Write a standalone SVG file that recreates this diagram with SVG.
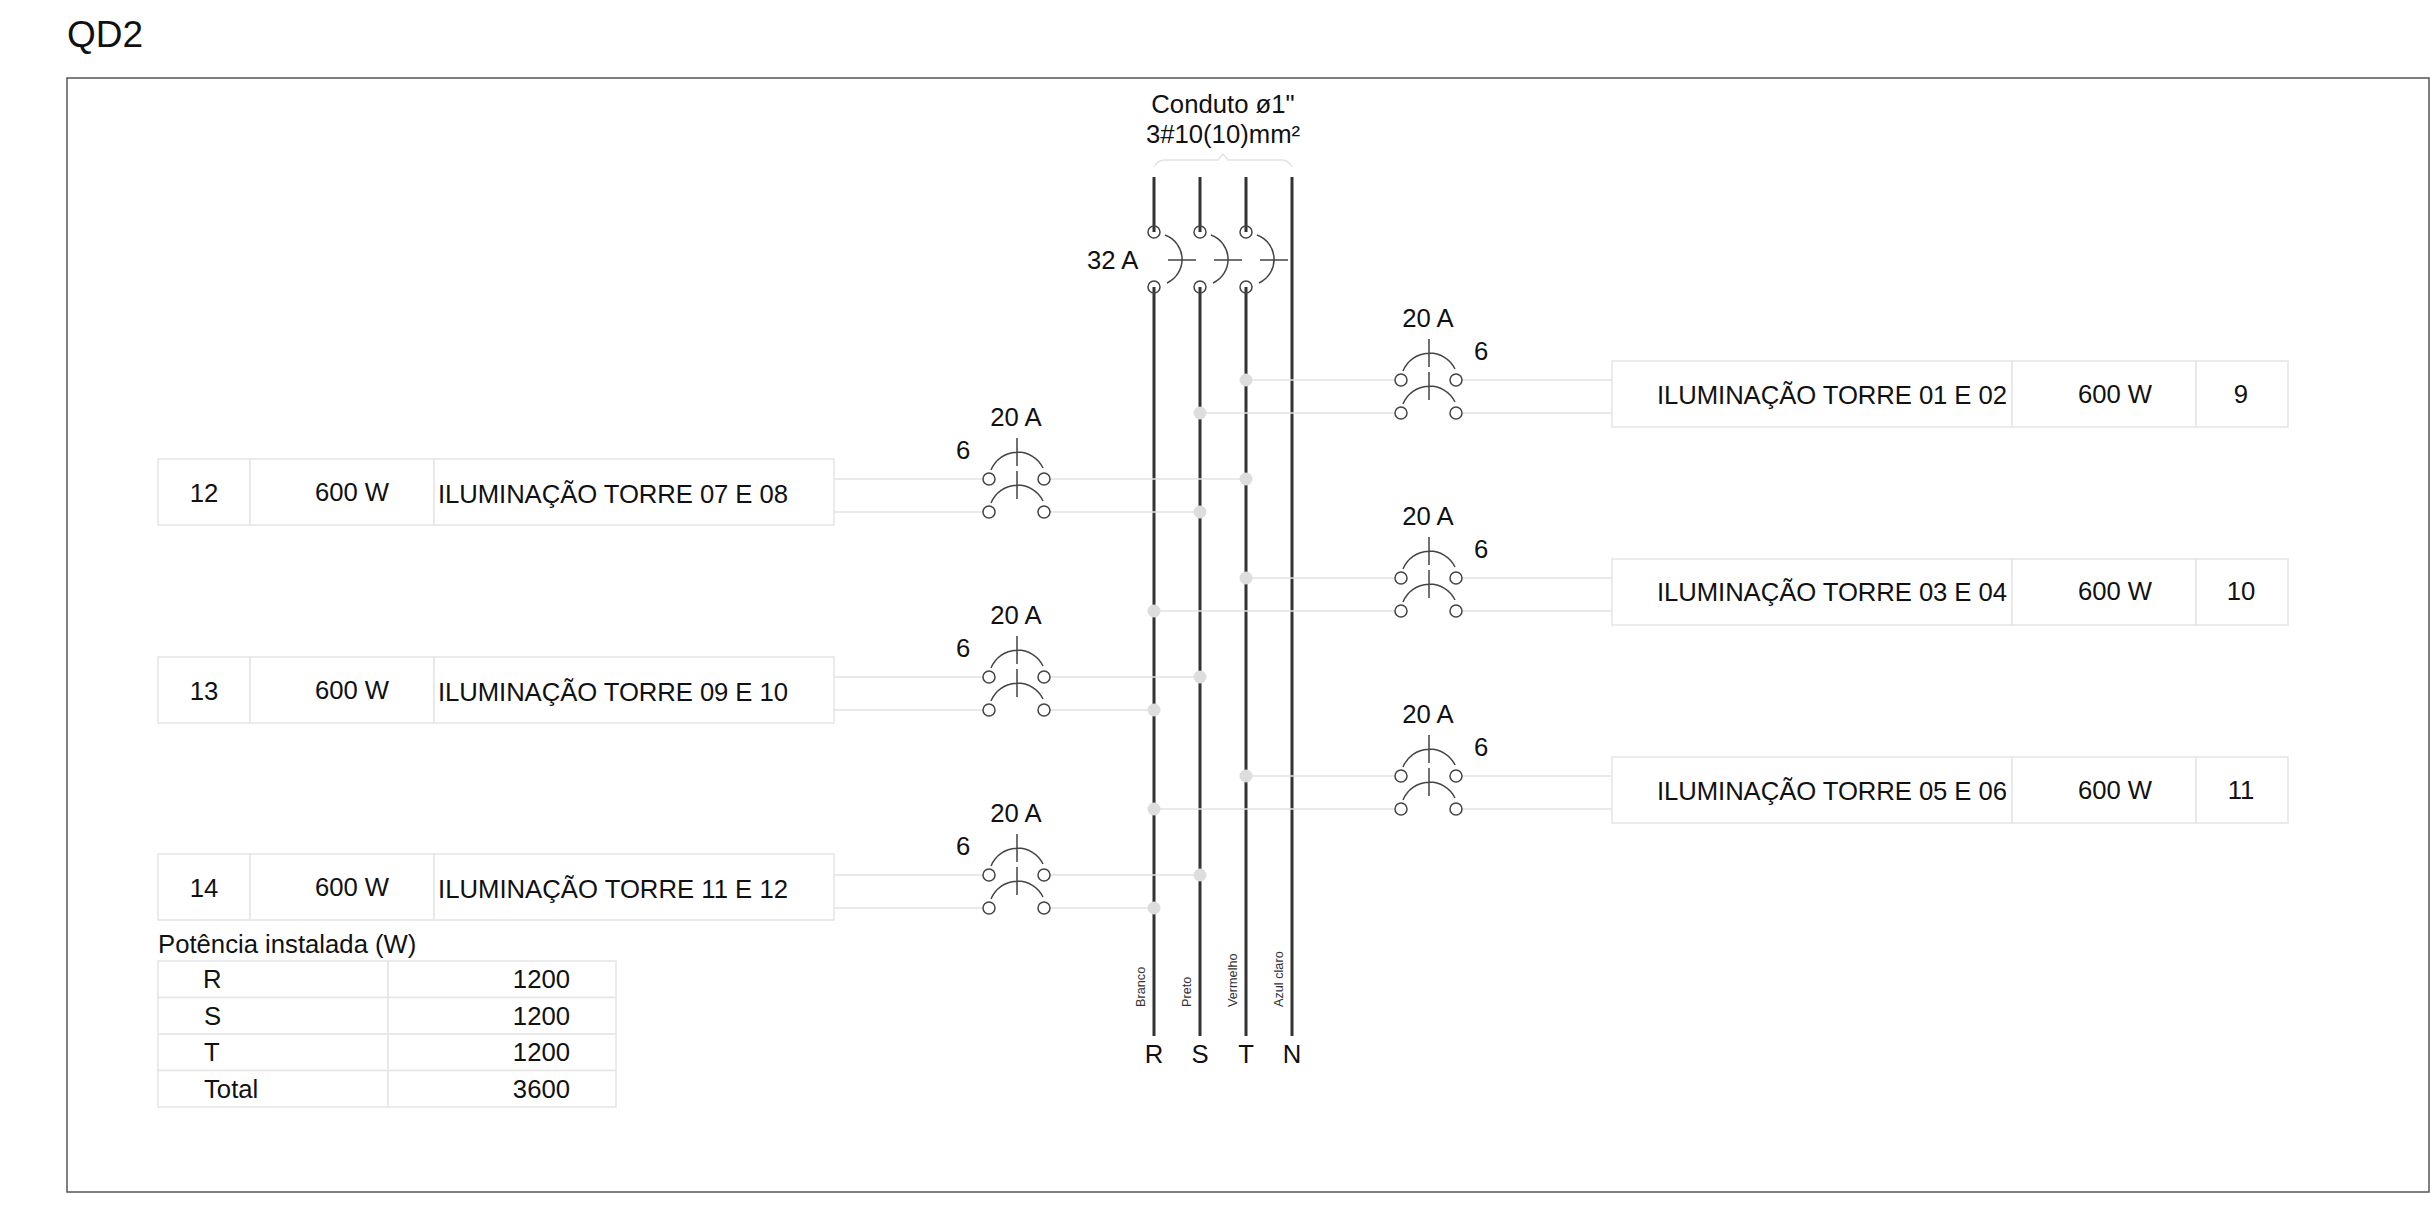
<svg xmlns="http://www.w3.org/2000/svg" width="2430" height="1209" viewBox="0 0 2430 1209">
<style>
text{font-family:"Liberation Sans",Arial,sans-serif;font-size:25.7px;fill:#111}
.m{text-anchor:middle}.e{text-anchor:end}
.cell{fill:#fff;stroke:#e6e6e6;stroke-width:1.6}
.bus{stroke:#333;stroke-width:3;fill:none}
.wire{stroke:#e2e2e2;stroke-width:1.6;fill:none}
.sym{stroke:#444;stroke-width:1.5;fill:none}
.term{stroke:#444;stroke-width:1.5;fill:none}
.dot{fill:#ddd}
.small{font-size:12.7px;fill:#333}
</style>
<defs>
<g id="bk"><path class="sym" d="M14 -9A28.5 28.5 0 0 1 66 -11M40 -41V-13M14 24A28.5 28.5 0 0 1 66 22M40 -8V20"/><circle class="term" cx="12" cy="0" r="6"/><circle class="term" cx="67" cy="0" r="6"/><circle class="term" cx="12" cy="33" r="6"/><circle class="term" cx="67" cy="33" r="6"/></g>
<g id="mb"><path class="sym" d="M11 -52A26 26 0 0 1 13 -4M14 -27H42"/><circle class="term" cx="0" cy="-55" r="6"/><circle class="term" cx="0" cy="0" r="6"/></g>
</defs>
<rect id="frame" x="67" y="78" width="2362" height="1114" fill="#fff" stroke="#555" stroke-width="1.5"/>
<text id="title" x="67" y="47" style="font-size:37px">QD2</text>
<g id="connectors">
<path class="bus" d="M1154 177V232M1154 287V1036M1200 177V232M1200 287V1036M1246 177V232M1246 287V1036M1292 177V1036"/>
<path class="wire" d="M1154 167Q1158 160 1164 160H1218L1223 154L1228 160H1282Q1288 160 1292 167" style="stroke-width:1.3"/>
<path class="wire" d="M1246 380H1395M1462 380H1612M1200 413H1395M1462 413H1612M1246 578H1395M1462 578H1612M1154 611H1395M1462 611H1612M1246 776H1395M1462 776H1612M1154 809H1395M1462 809H1612M834 479H983M1050 479H1246M834 512H983M1050 512H1200M834 677H983M1050 677H1200M834 710H983M1050 710H1154M834 875H983M1050 875H1200M834 908H983M1050 908H1154"/>
<g class="dot"><circle cx="1246" cy="380" r="6.5"/><circle cx="1200" cy="413" r="6.5"/><circle cx="1246" cy="578" r="6.5"/><circle cx="1154" cy="611" r="6.5"/><circle cx="1246" cy="776" r="6.5"/><circle cx="1154" cy="809" r="6.5"/><circle cx="1246" cy="479" r="6.5"/><circle cx="1200" cy="512" r="6.5"/><circle cx="1200" cy="677" r="6.5"/><circle cx="1154" cy="710" r="6.5"/><circle cx="1200" cy="875" r="6.5"/><circle cx="1154" cy="908" r="6.5"/></g>
</g>
<g id="conduit"><text class="m" x="1223" y="113">Conduto ø1"</text><text class="m" x="1223" y="143">3#10(10)mm²</text></g>
<g id="main-breaker"><use href="#mb" x="1154" y="287"/><use href="#mb" x="1200" y="287"/><use href="#mb" x="1246" y="287"/><text x="1087" y="269">32 A</text></g>
<g id="breaker-9"><use href="#bk" x="1389" y="380"/><text class="m" x="1428" y="327">20 A</text><text x="1474" y="360">6</text></g>
<g id="breaker-10"><use href="#bk" x="1389" y="578"/><text class="m" x="1428" y="525">20 A</text><text x="1474" y="558">6</text></g>
<g id="breaker-11"><use href="#bk" x="1389" y="776"/><text class="m" x="1428" y="723">20 A</text><text x="1474" y="756">6</text></g>
<g id="breaker-12"><use href="#bk" x="977" y="479"/><text class="m" x="1016" y="426">20 A</text><text x="956" y="459">6</text></g>
<g id="breaker-13"><use href="#bk" x="977" y="677"/><text class="m" x="1016" y="624">20 A</text><text x="956" y="657">6</text></g>
<g id="breaker-14"><use href="#bk" x="977" y="875"/><text class="m" x="1016" y="822">20 A</text><text x="956" y="855">6</text></g>
<g id="circuit-9"><rect class="cell" x="1612" y="361" width="400" height="66"/><rect class="cell" x="2012" y="361" width="184" height="66"/><rect class="cell" x="2196" y="361" width="92" height="66"/><text x="1657" y="404" textLength="350">ILUMINAÇÃO TORRE 01 E 02</text><text class="m" x="2115" y="403">600 W</text><text class="m" x="2241" y="403">9</text></g>
<g id="circuit-10"><rect class="cell" x="1612" y="559" width="400" height="66"/><rect class="cell" x="2012" y="559" width="184" height="66"/><rect class="cell" x="2196" y="559" width="92" height="66"/><text x="1657" y="601" textLength="350">ILUMINAÇÃO TORRE 03 E 04</text><text class="m" x="2115" y="600">600 W</text><text class="m" x="2241" y="600">10</text></g>
<g id="circuit-11"><rect class="cell" x="1612" y="757" width="400" height="66"/><rect class="cell" x="2012" y="757" width="184" height="66"/><rect class="cell" x="2196" y="757" width="92" height="66"/><text x="1657" y="800" textLength="350">ILUMINAÇÃO TORRE 05 E 06</text><text class="m" x="2115" y="799">600 W</text><text class="m" x="2241" y="799">11</text></g>
<g id="circuit-12"><rect class="cell" x="158" y="459" width="92" height="66"/><rect class="cell" x="250" y="459" width="184" height="66"/><rect class="cell" x="434" y="459" width="400" height="66"/><text class="m" x="204" y="502">12</text><text class="m" x="352" y="501">600 W</text><text x="438" y="503" textLength="350">ILUMINAÇÃO TORRE 07 E 08</text></g>
<g id="circuit-13"><rect class="cell" x="158" y="657" width="92" height="66"/><rect class="cell" x="250" y="657" width="184" height="66"/><rect class="cell" x="434" y="657" width="400" height="66"/><text class="m" x="204" y="700">13</text><text class="m" x="352" y="699">600 W</text><text x="438" y="701" textLength="350">ILUMINAÇÃO TORRE 09 E 10</text></g>
<g id="circuit-14"><rect class="cell" x="158" y="854" width="92" height="66"/><rect class="cell" x="250" y="854" width="184" height="66"/><rect class="cell" x="434" y="854" width="400" height="66"/><text class="m" x="204" y="897">14</text><text class="m" x="352" y="896">600 W</text><text x="438" y="898" textLength="350">ILUMINAÇÃO TORRE 11 E 12</text></g>
<g id="phase-labels">
<text class="small" transform="translate(1145 1007) rotate(-90)">Branco</text>
<text class="small" transform="translate(1191 1007) rotate(-90)">Preto</text>
<text class="small" transform="translate(1237 1007) rotate(-90)">Vermelho</text>
<text class="small" transform="translate(1283 1007) rotate(-90)">Azul claro</text>
<text class="m" x="1154" y="1063">R</text><text class="m" x="1200" y="1063">S</text><text class="m" x="1246" y="1063">T</text><text class="m" x="1292" y="1063">N</text>
</g>
<g id="power-table">
<text x="158" y="953">Potência instalada (W)</text>
<rect class="cell" x="158" y="961" width="230" height="36.5"/><rect class="cell" x="388" y="961" width="228" height="36.5"/>
<rect class="cell" x="158" y="997.5" width="230" height="36.5"/><rect class="cell" x="388" y="997.5" width="228" height="36.5"/>
<rect class="cell" x="158" y="1034" width="230" height="36.5"/><rect class="cell" x="388" y="1034" width="228" height="36.5"/>
<rect class="cell" x="158" y="1070.5" width="230" height="36.5"/><rect class="cell" x="388" y="1070.5" width="228" height="36.5"/>
<text x="203" y="988">R</text><text class="e" x="570" y="988">1200</text>
<text x="204" y="1025">S</text><text class="e" x="570" y="1025">1200</text>
<text x="204" y="1061">T</text><text class="e" x="570" y="1061">1200</text>
<text x="204" y="1098">Total</text><text class="e" x="570" y="1098">3600</text>
</g>
</svg>
